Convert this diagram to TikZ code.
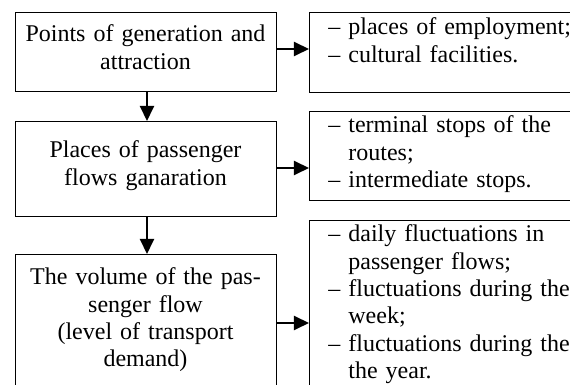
\documentclass[tikz,border=0pt]{standalone}
\usepackage{fontspec}
\setmainfont{Liberation Serif}
\usetikzlibrary{arrows.meta}
\begin{document}
\begin{tikzpicture}[x=0.5pt,y=-0.5pt,
  box/.style={draw, line width=0.7pt, rectangle, inner sep=0pt, anchor=north west},
  ltxt/.style={inner sep=0pt, text width=128pt, align=center, anchor=base,
    font=\fontsize{12}{13.65}\selectfont},
  rtxt/.style={inner sep=0pt, text width=140pt, align=left, anchor=base west,
    font=\fontsize{12}{13.65}\selectfont},
  arr/.style={line width=1pt, -{Triangle[length=7.5pt,width=7pt]}}]
\useasboundingbox (0,0) rectangle (570,385);
\clip (0,0) rectangle (570,385);
% left boxes
\node[box, minimum width=130.5pt, minimum height=39.5pt] (l1) at (15,12) {};
\node[box, minimum width=130.5pt, minimum height=47.5pt] (l2) at (15,121) {};
\node[box, minimum width=130.5pt, minimum height=73pt] (l3) at (15,254) {};
% right boxes
\node[box, minimum width=150pt, minimum height=40pt] (r1) at (309,12) {};
\node[box, minimum width=150pt, minimum height=44.5pt] (r2) at (309,111) {};
\node[box, minimum width=150pt, minimum height=90pt] (r3) at (309,220) {};
% left texts
\node[ltxt] (t1) at (145.5,42) {Points of generation and\\attraction};
\node[ltxt] (t2) at (145.5,158) {Places of passenger\\flows ganaration};
\node[ltxt] (t3) at (145.5,285) {The volume of the pas-\\senger flow\\(level of transport\\demand)};
% right texts
\node[rtxt] (u1) at (328,35) {– places of employment;\\– cultural facilities.};
\node[rtxt] (u2) at (328,133) {– terminal stops of the\\\hphantom{– }routes;\\– intermediate stops.};
\node[rtxt] (u3) at (328,242) {– daily fluctuations in\\\hphantom{– }passenger flows;\\– fluctuations during the\\\hphantom{– }week;\\– fluctuations during the\\\hphantom{– }the year.};
% connectors
\draw[arr] (l1.east |- 0,49) -- (r1.west |- 0,49);
\draw[arr] (l2.east |- 0,168) -- (r2.west |- 0,168);
\draw[arr] (l3.east |- 0,323) -- (r3.west |- 0,323);
\draw[arr] (l1.south -| 147,0) -- (l2.north -| 147,0);
\draw[arr] (l2.south -| 147,0) -- (l3.north -| 147,0);
\end{tikzpicture}
\end{document}
